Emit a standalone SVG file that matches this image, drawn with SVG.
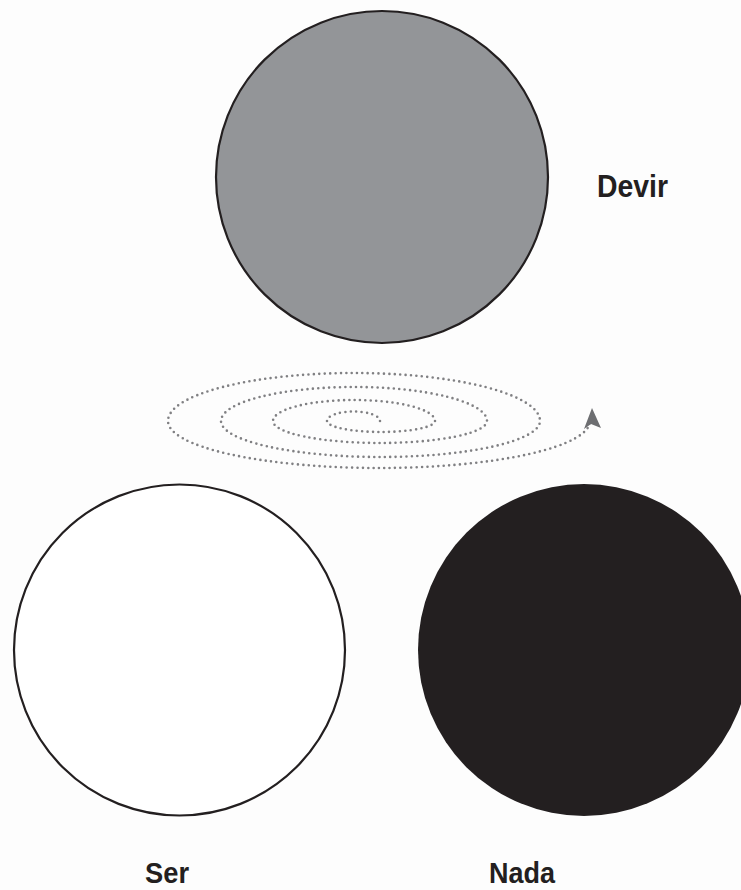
<svg xmlns="http://www.w3.org/2000/svg" width="741" height="890" viewBox="0 0 741 890">
<style>
.lbl{font-family:"Liberation Sans",Arial,sans-serif;font-weight:bold;font-size:31px;fill:#231f20}
.low{font-size:30px}
.dots{fill:none;stroke:#808083;stroke-width:2.6;stroke-linecap:round;stroke-dasharray:0 5.4}
</style>
<rect width="741" height="890" fill="#fdfdfd"/>
<g id="devir">
<circle cx="382" cy="177" r="166" fill="#939598" stroke="#231f20" stroke-width="2.2"/>
<text class="lbl" x="597" y="197" textLength="71" lengthAdjust="spacingAndGlyphs">Devir</text>
</g>
<g id="ser">
<circle cx="179.5" cy="650" r="165.5" fill="#ffffff" stroke="#231f20" stroke-width="2.2"/>
<text class="lbl low" x="145" y="883" textLength="44" lengthAdjust="spacingAndGlyphs">Ser</text>
</g>
<g id="nada">
<circle cx="584" cy="650" r="166" fill="#231f20"/>
<text class="lbl low" x="489" y="883" textLength="66" lengthAdjust="spacingAndGlyphs">Nada</text>
</g>
<g id="connectors">
<path class="dots" d="M380,421 A26.5,9.5 0 0 0 327,421 A54,11 0 0 0 435,421 A81,21 0 0 0 273,421 A107,22 0 0 0 487,421 A133,34 0 0 0 221,421 A159.5,36 0 0 0 540,421 A186,48 0 0 0 168,421 A211,47 0 0 0 590,421"/>
<path d="M592,408 L601,428 L591,424 L584,429 Z" fill="#6d6e71"/>
</g>
</svg>
